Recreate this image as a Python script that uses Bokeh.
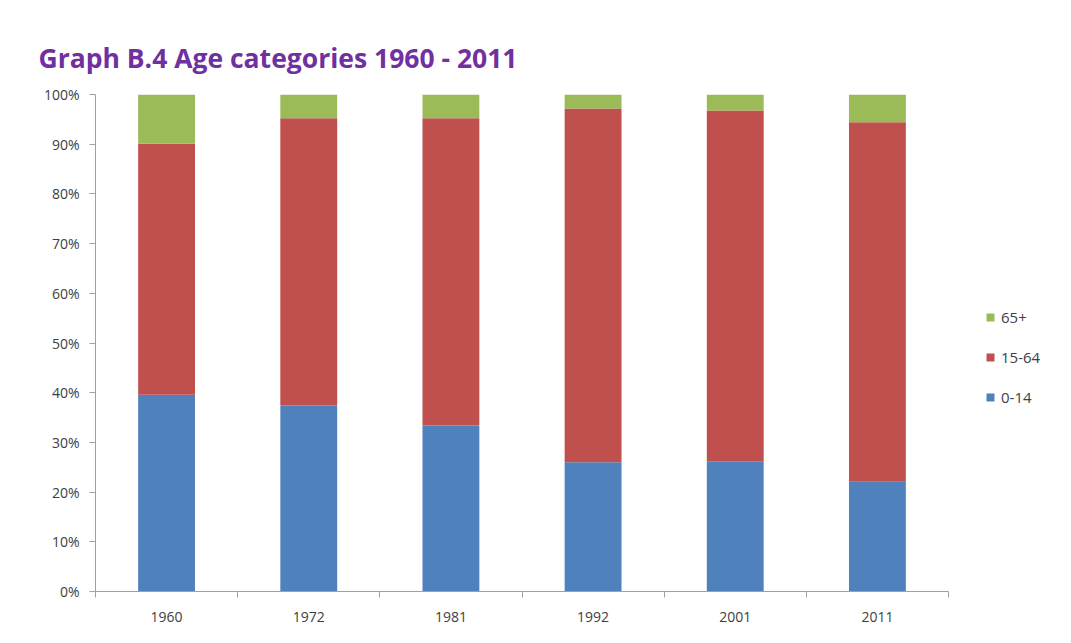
from bokeh.plotting import figure
from bokeh.models import (ColumnDataSource, FixedTicker, PrintfTickFormatter, Legend,
                          LegendItem, Range1d, Title, BoxAnnotation)
from bokeh.embed import file_html
from bokeh.resources import INLINE

years = ["1960", "1972", "1981", "1992", "2001", "2011"]
age_0_14 = [39.6, 37.4, 33.4, 26.0, 26.2, 22.1]
age_15_64 = [50.5, 57.8, 61.8, 71.2, 70.6, 72.3]
age_65 = [9.9, 4.8, 4.8, 2.8, 3.2, 5.6]
series = ["0-14", "15-64", "65+"]
colors = ["#4F81BD", "#C0504D", "#9BBB59"]
y_ticks = list(range(0, 101, 10))

xs = [i + 0.5 for i in range(len(years))]
src = ColumnDataSource(dict(x=xs, a=age_0_14, b=age_15_64, c=age_65))

p = figure(width=1060, height=630, output_backend="svg", toolbar_location=None,
           x_range=Range1d(0, len(years)), y_range=Range1d(0, 100),
           frame_width=853, frame_height=497,
           min_border_left=95, min_border_top=94, min_border_bottom=38, min_border_right=112)

renderers = p.vbar_stack(["a", "b", "c"], x="x", width=0.4, color=colors, source=src,
                         line_color=None)

# outer chart border (canvas units)
border = BoxAnnotation(left=13, right=1100, top=11, bottom=700,
                       left_units="canvas", right_units="canvas",
                       top_units="canvas", bottom_units="canvas",
                       fill_alpha=0, line_color="#BFBFBF", line_width=1.5,
                       level="underlay", propagate_hover=False)
p.add_layout(border)

p.title = Title(text="Graph B.4 Age categories 1960 - 2011", text_font="Open Sans",
                text_font_size="26.5px", text_font_style="bold", text_color="#7030A0",
                align="left", offset=-57, standoff=38)

p.xgrid.visible = False
p.ygrid.visible = False
p.outline_line_color = None

# x axis: labels at centres, ticks at category boundaries
p.xaxis.ticker = FixedTicker(ticks=xs, minor_ticks=list(range(len(years) + 1)))
p.xaxis.major_label_overrides = {x: y for x, y in zip(xs, years)}
p.xaxis.major_tick_line_color = None
p.xaxis.minor_tick_in = 0
p.xaxis.minor_tick_out = 6
p.xaxis.minor_tick_line_color = "#A0A0A0"
p.xaxis.axis_line_color = "#A0A0A0"
p.xaxis.major_label_text_font = "Open Sans"
p.xaxis.major_label_text_font_size = "14px"
p.xaxis.major_label_text_color = "#404040"
p.xaxis.major_label_standoff = 14

p.yaxis.ticker = FixedTicker(ticks=y_ticks)
p.yaxis.formatter = PrintfTickFormatter(format="%d%%")
p.yaxis.major_tick_in = 0
p.yaxis.major_tick_out = 6
p.yaxis.minor_tick_line_color = None
p.yaxis.major_tick_line_color = "#A0A0A0"
p.yaxis.axis_line_color = "#A0A0A0"
p.yaxis.major_label_text_font = "Open Sans"
p.yaxis.major_label_text_font_size = "14px"
p.yaxis.major_label_text_color = "#404040"
p.yaxis.major_label_standoff = 10

items = [LegendItem(label=s, renderers=[r]) for s, r in zip(series, renderers)][::-1]
legend = Legend(items=items, location=(37, 184), glyph_width=10, glyph_height=10,
                spacing=20, label_text_font="Open Sans", label_text_font_size="15px",
                label_text_color="#404040", border_line_color=None, background_fill_alpha=0,
                padding=0, margin=0, label_standoff=6)
p.add_layout(legend, "right")

open("out.html", "w").write(file_html(p, INLINE))
